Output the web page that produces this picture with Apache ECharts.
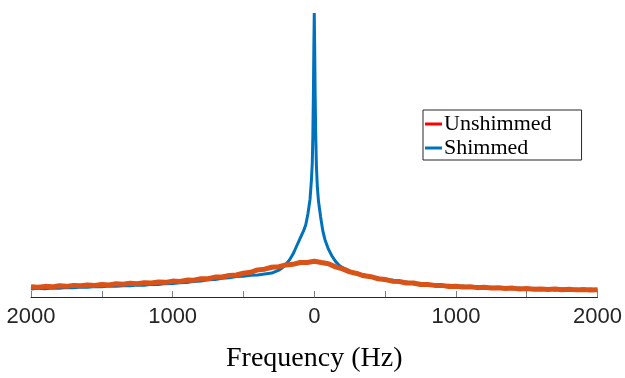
<!DOCTYPE html>
<html>
<head>
<meta charset="utf-8">
<script src="https://cdn.jsdelivr.net/npm/echarts@6/dist/echarts.min.js"></script>
<style>html,body{margin:0;padding:0;background:#fff}#c{width:625px;height:378px}</style>
</head>
<body>
<div id="c"></div>
<script>
// Frequency (Hz) and intensity (arbitrary units)
const unshimmedHz = [-2000,-1950,-1900,-1850,-1800,-1750,-1700,-1650,-1600,-1550,-1500,-1450,-1400,-1350,-1300,-1250,-1200,-1150,-1100,-1050,-1000,-950,-900,-850,-800,-750,-700,-650,-600,-550,-500,-450,-400,-350,-300,-250,-200,-150,-100,-50,0,50,100,150,200,250,300,350,400,450,500,550,600,650,700,750,800,850,900,950,1000,1050,1100,1150,1200,1250,1300,1350,1400,1450,1500,1550,1600,1650,1700,1750,1800,1850,1900,1950,2000];
const unshimmedVal = [10.5,9.9,10.9,10.4,11.5,10.9,11.9,11.5,12.4,11.9,12.9,12.4,13.5,13.0,14.1,13.6,14.6,14.3,15.4,15.0,16.3,15.9,17.3,17.2,18.8,18.7,20.4,20.5,22.1,22.5,24.3,25.3,27.8,28.5,30.5,31.0,32.9,33.5,35.3,35.3,36.6,35.3,34.1,30.9,28.8,25.7,24.1,21.7,20.8,18.7,17.9,16.2,15.9,14.3,14.3,12.8,12.9,11.9,11.9,10.8,11.1,10.2,10.4,9.6,9.9,9.2,9.4,8.7,9.1,8.3,8.6,8.0,8.3,7.7,8.1,7.5,7.9,7.3,7.7,7.2,7.5];

const shimmedHz = [-2000,-1950,-1900,-1850,-1800,-1750,-1700,-1650,-1600,-1550,-1500,-1450,-1400,-1350,-1300,-1250,-1200,-1150,-1100,-1050,-1000,-950,-900,-850,-800,-750,-700,-650,-600,-550,-500,-450,-400,-350,-300,-250,-225,-200,-175,-150,-125,-100,-75,-60,-45,-30,-20,-14,-10,-6,-3,0,3,6,10,15,22,30,45,60,75,100,125,150,175,200,250,300,350,400,450,500,550,600,650,700,750,800,850,900,950,1000,1050,1100,1150,1200,1250,1300,1350,1400,1450,1500,1550,1600,1650,1700,1750,1800,1850,1900,1950,2000];
const shimmedVal = [8.3,8.9,8.5,9.3,9.0,9.7,9.4,10.3,9.9,10.7,10.4,11.2,11.0,11.6,11.5,12.3,12.1,13.0,12.9,13.7,13.8,14.7,14.9,16.0,16.5,17.6,18.0,19.3,19.8,21.0,21.2,22.3,22.6,23.6,24.5,27.5,30,33.5,38,44,52,60,68,74,85,100,120,137,165,210,255,291,255,210,168,135,112,98,82,68,59,49,42,36.5,32.5,30,26.8,23.6,22.9,20.0,19.6,17.0,17.4,15.0,15.5,13.4,14.0,12.0,12.9,11.0,12.0,10.2,11.3,9.6,10.7,9.0,10.1,8.6,9.6,8.2,9.2,7.8,8.9,7.4,8.6,7.2,8.4,7.0,8.3,6.8,8.1,6.9];

const xTickLabels = {'-2000':'2000','-1000':'1000','0':'0','1000':'1000','2000':'2000'};
const seriesNames = ['Unshimmed','Shimmed'];

const chart = echarts.init(document.getElementById('c'));
chart.setOption({
  animation: false,
  backgroundColor: '#ffffff',
  grid: {left: 31, right: 24, top: 13, bottom: 74},
  xAxis: {
    type: 'value', min: -2000, max: 2000, interval: 500,
    axisLine: {lineStyle: {color: '#262626', width: 1}},
    axisTick: {inside: true, length: 6, lineStyle: {color: '#808080', width: 1}},
    splitLine: {show: false},
    axisLabel: {
      color: '#262626', fontFamily: 'Liberation Sans', fontSize: 22, margin: 9,
      formatter: v => xTickLabels[String(v)] || ''
    },
    name: 'Frequency (Hz)', nameLocation: 'middle', nameGap: 48,
    nameTextStyle: {fontFamily: 'Liberation Serif', fontSize: 28, color: '#000'}
  },
  yAxis: {
    type: 'value', min: 0, max: 291, show: false
  },
  legend: {
    orient: 'vertical', left: 423, top: 110,
    padding: [2, 30, 0, 2], itemGap: 0,
    borderColor: '#262626', borderWidth: 1,
    icon: 'rect', itemWidth: 17, itemHeight: 3,
    textStyle: {fontFamily: 'Liberation Serif', fontSize: 22, color: '#000', lineHeight: 24, padding: [0,0,0,-3]},
    data: [
      {name: seriesNames[0], itemStyle: {color: '#ff0000'}},
      {name: seriesNames[1], itemStyle: {color: '#0072BD'}}
    ]
  },
  series: [
    {
      name: seriesNames[1], type: 'line', showSymbol: false,
      data: shimmedHz.map((x, i) => [x, shimmedVal[i]]),
      lineStyle: {color: '#0072BD', width: 3}, itemStyle: {color: '#0072BD'}
    },
    {
      name: seriesNames[0], type: 'line', showSymbol: false,
      data: unshimmedHz.map((x, i) => [x, unshimmedVal[i]]),
      lineStyle: {color: '#D95319', width: 5}, itemStyle: {color: '#D95319'}
    }
  ]
});
</script>
</body>
</html>
